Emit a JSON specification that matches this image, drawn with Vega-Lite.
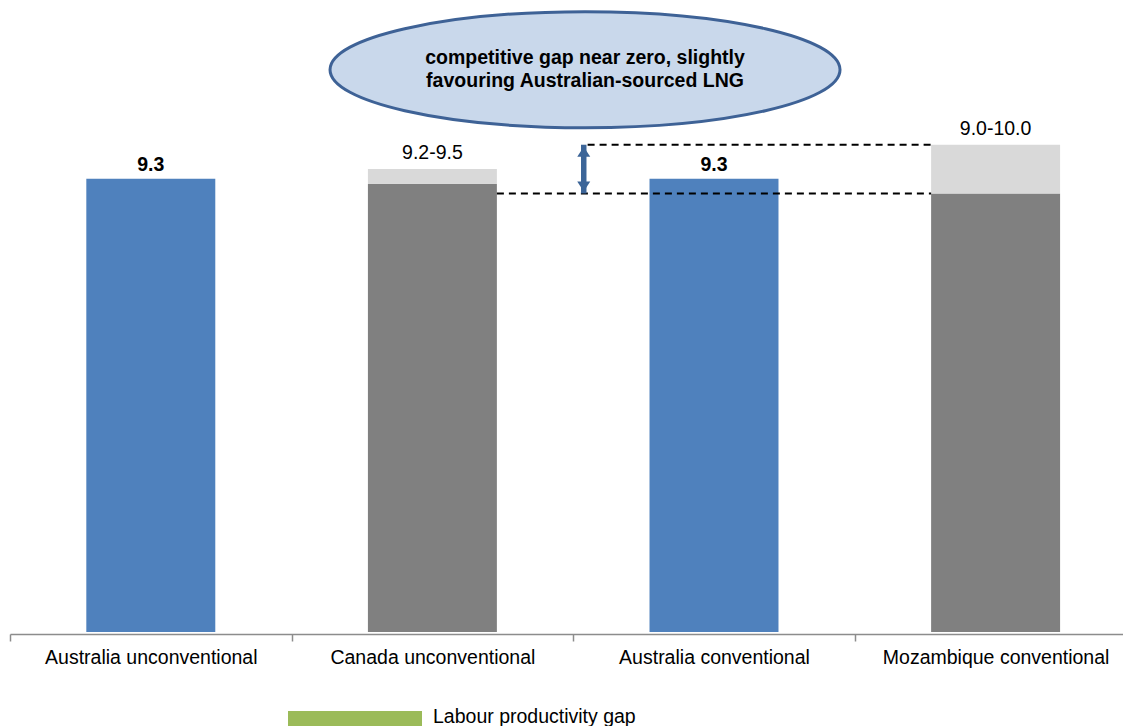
{
  "$schema": "https://vega.github.io/schema/vega-lite/v6.json",
  "autosize": {"type": "none"},
  "padding": {"left": 10, "top": 0, "right": 0, "bottom": 94},
  "width": 1113,
  "height": 632,
  "background": "white",
  "config": {
    "view": {"stroke": null},
    "font": "Liberation Sans",
    "text": {"font": "Liberation Sans", "fontSize": 19.5, "color": "#000000"}
  },
  "datasets": {
    "segments": [
      {"category": "Australia unconventional", "component": "Australian cost", "lo": 0, "hi": 9.3},
      {"category": "Canada unconventional", "component": "Competitor cost", "lo": 0, "hi": 9.2},
      {"category": "Canada unconventional", "component": "Competitor cost range", "lo": 9.2, "hi": 9.5},
      {"category": "Australia conventional", "component": "Australian cost", "lo": 0, "hi": 9.3},
      {"category": "Mozambique conventional", "component": "Competitor cost", "lo": 0, "hi": 9.0},
      {"category": "Mozambique conventional", "component": "Competitor cost range", "lo": 9.0, "hi": 10.0}
    ],
    "labels": [
      {"category": "Australia unconventional", "top": 9.3, "label": "9.3", "strong": true},
      {"category": "Canada unconventional", "top": 9.5, "label": "9.2-9.5", "strong": false},
      {"category": "Australia conventional", "top": 9.3, "label": "9.3", "strong": true},
      {"category": "Mozambique conventional", "top": 10.0, "label": "9.0-10.0", "strong": false}
    ],
    "gapLines": [
      {"line": "upper", "from": "Australia conventional", "to": "Mozambique conventional", "level": 10.0},
      {"line": "lower", "from": "Canada unconventional", "to": "Mozambique conventional", "level": 9.0}
    ],
    "gapArrow": [
      {"category": "Australia conventional", "high": 10.0, "low": 9.0}
    ],
    "callout": [
      {"category": "Australia conventional", "level": 11.54, "note": ["competitive gap near zero, slightly", "favouring Australian-sourced LNG"]}
    ]
  },
  "encoding": {
    "x": {
      "field": "category",
      "type": "nominal",
      "sort": null,
      "title": null,
      "scale": {
        "domain": ["Australia unconventional", "Canada unconventional", "Australia conventional", "Mozambique conventional"],
        "range": [0, 1126.4],
        "paddingInner": 0.542,
        "paddingOuter": 0.271
      },
      "axis": {
        "labelAngle": 0,
        "labelFont": "Liberation Sans",
        "labelFontSize": 19.5,
        "labelColor": "#000000",
        "labelPadding": 7,
        "labelLimit": 0,
        "tickOffset": -140.8,
        "labelOffset": 140.8,
        "domainColor": "#8c8c8c",
        "domainWidth": 1.5,
        "tickColor": "#8c8c8c",
        "tickWidth": 1.5,
        "tickSize": 7,
        "offset": 2,
        "grid": false
      }
    },
    "y": {
      "type": "quantitative",
      "title": null,
      "axis": null,
      "scale": {"domain": [0, 12.97], "nice": false, "zero": true}
    }
  },
  "layer": [
    {
      "data": {"name": "segments"},
      "mark": {"type": "bar"},
      "encoding": {
        "y": {"field": "lo", "type": "quantitative"},
        "y2": {"field": "hi"},
        "color": {
          "field": "component",
          "type": "nominal",
          "scale": {
            "domain": ["Australian cost", "Competitor cost", "Competitor cost range", "Labour productivity gap"],
            "range": ["#4F81BD", "#808080", "#D9D9D9", "#9BBB59"]
          },
          "legend": {
            "values": ["Labour productivity gap"],
            "title": null,
            "orient": "none",
            "legendX": 278,
            "legendY": 656,
            "symbolType": "M-1,-0.179L1,-0.179L1,0.179L-1,0.179Z",
            "symbolSize": 17956,
            "symbolStrokeWidth": 0,
            "symbolOpacity": 1,
            "labelFont": "Liberation Sans",
            "labelFontSize": 19.5,
            "labelBaseline": "alphabetic",
            "labelLimit": 0,
            "labelColor": "#000000",
            "labelOffset": 11
          }
        }
      }
    },
    {
      "data": {"name": "labels"},
      "transform": [{"filter": "datum.strong"}],
      "mark": {"type": "text", "fontWeight": "bold", "baseline": "alphabetic", "dy": -8},
      "encoding": {
        "y": {"field": "top", "type": "quantitative"},
        "text": {"field": "label"}
      }
    },
    {
      "data": {"name": "labels"},
      "transform": [{"filter": "!datum.strong"}],
      "mark": {"type": "text", "baseline": "alphabetic", "dy": -10},
      "encoding": {
        "y": {"field": "top", "type": "quantitative"},
        "text": {"field": "label"}
      }
    },
    {
      "data": {"name": "gapLines"},
      "transform": [{"filter": "datum.line === 'upper'"}],
      "mark": {"type": "rule", "color": "#000000", "strokeWidth": 2, "strokeDash": [7, 5]},
      "encoding": {
        "x": {"field": "from", "type": "nominal", "bandPosition": -0.48},
        "x2": {"field": "to", "bandPosition": 0},
        "y": {"field": "level", "type": "quantitative"}
      }
    },
    {
      "data": {"name": "gapLines"},
      "transform": [{"filter": "datum.line === 'lower'"}],
      "mark": {"type": "rule", "color": "#000000", "strokeWidth": 2, "strokeDash": [7, 5]},
      "encoding": {
        "x": {"field": "from", "type": "nominal", "bandPosition": 1},
        "x2": {"field": "to", "bandPosition": 0},
        "y": {"field": "level", "type": "quantitative"}
      }
    },
    {
      "data": {"name": "gapArrow"},
      "mark": {"type": "rule", "color": "#3C6598", "strokeWidth": 5.5},
      "encoding": {
        "x": {"field": "category", "type": "nominal", "bandPosition": -0.51},
        "y": {"field": "high", "type": "quantitative"},
        "y2": {"field": "low"}
      }
    },
    {
      "data": {"name": "gapArrow"},
      "mark": {"type": "point", "filled": true, "color": "#3C6598", "opacity": 1, "size": 169, "shape": "M0,0.3L1,1.84L-1,1.84Z"},
      "encoding": {
        "x": {"field": "category", "type": "nominal", "bandPosition": -0.51},
        "y": {"field": "high", "type": "quantitative"}
      }
    },
    {
      "data": {"name": "gapArrow"},
      "mark": {"type": "point", "filled": true, "color": "#3C6598", "opacity": 1, "size": 169, "shape": "M0,-0.3L1,-1.84L-1,-1.84Z"},
      "encoding": {
        "x": {"field": "category", "type": "nominal", "bandPosition": -0.51},
        "y": {"field": "low", "type": "quantitative"}
      }
    },
    {
      "data": {"name": "callout"},
      "mark": {
        "type": "point",
        "filled": false,
        "fill": "#C9D8EB",
        "fillOpacity": 1,
        "stroke": "#3E6296",
        "strokeWidth": 3,
        "opacity": 1,
        "size": 260100,
        "shape": "M1,0C1,0.1256,0.5523,0.2275,0,0.2275C-0.5523,0.2275,-1,0.1256,-1,0C-1,-0.1256,-0.5523,-0.2275,0,-0.2275C0.5523,-0.2275,1,-0.1256,1,0Z"
      },
      "encoding": {
        "x": {"field": "category", "type": "nominal", "bandPosition": -0.5},
        "y": {"field": "level", "type": "quantitative"}
      }
    },
    {
      "data": {"name": "callout"},
      "mark": {"type": "text", "fontWeight": "bold", "fontSize": 19.5, "lineHeight": 23, "baseline": "middle", "align": "center", "dy": -11.5},
      "encoding": {
        "x": {"field": "category", "type": "nominal", "bandPosition": -0.5},
        "y": {"field": "level", "type": "quantitative"},
        "text": {"field": "note"}
      }
    }
  ]
}
